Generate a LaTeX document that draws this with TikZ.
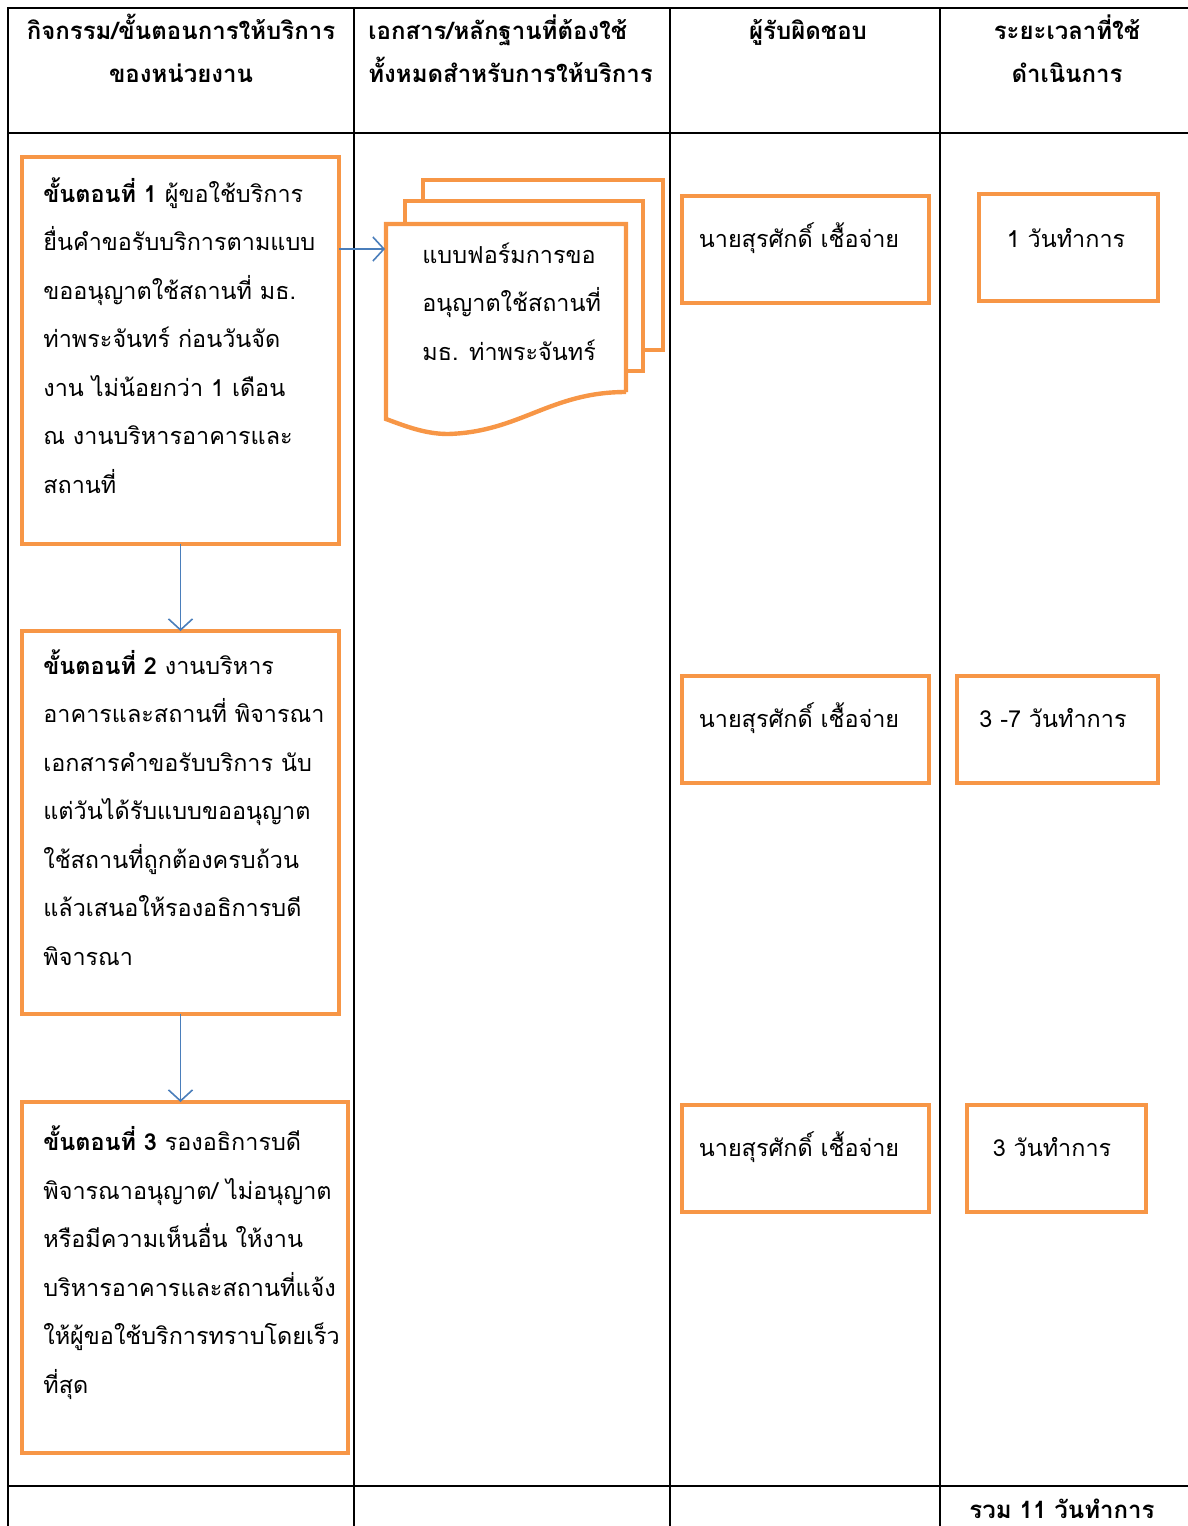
\documentclass[tikz,border=0pt]{standalone}
\usepackage{fontspec}
\setmainfont{Loma}[Script=Thai]
\usepackage{tikz}
\usetikzlibrary{arrows.meta,positioning}
\definecolor{boxorange}{HTML}{F79646}
\definecolor{flowblue}{HTML}{4A7EBB}
\tikzstyle{grid}=[draw,line width=1pt]
\tikzstyle{stepbox}=[draw=boxorange,line width=2.3pt,anchor=north west,inner sep=0pt,outer sep=0pt]
% base anchor of a node of several lines sits on its last line
\tikzstyle{body}=[anchor=base west,inner sep=0pt,align=left,font=\fontsize{11.7}{24.25}\selectfont]
\tikzstyle{cell}=[anchor=base,inner sep=0pt,font=\fontsize{11.7}{24.25}\selectfont]
\tikzstyle{head}=[inner sep=0pt,font=\fontsize{12}{21.5}\selectfont\bfseries]
\tikzstyle{flow}=[draw=flowblue,line width=0.8pt,-{Straight Barb[length=5.5pt,width=12pt]}]

\begin{document}
\begin{tikzpicture}[x=0.5pt,y=-0.5pt]
\useasboundingbox (0,0) rectangle (1188,1526);
% table
\draw[grid] (1188,8)--(8,8)--(8,1526);
\draw[grid] (8,133)--(1188,133);
\draw[grid] (8,1486)--(1188,1486);
\draw[grid] (354,8)--(354,1526);
\draw[grid] (670,8)--(670,1526);
\draw[grid] (940,8)--(940,1526);
\node[head,anchor=base,align=center](hone) at (181,82){กิจกรรม/ขั้นตอนการให้บริการ\\ของหน่วยงาน};
\node[head,anchor=base west,align=left](htwo) at (368,82){เอกสาร/หลักฐานที่ต้องใช้\\ทั้งหมดสำหรับการให้บริการ};
\node[head,anchor=base](hthree) at (808,39){ผู้รับผิดชอบ};
\node[head,anchor=base,align=center](hfour) at (1067,82){ระยะเวลาที่ใช้\\ดำเนินการ};
% steps
\node[stepbox,minimum width=158.5pt,minimum height=193.5pt](one) at (22,157){};
\node[body](tone) at (43,493){\textbf{ขั้นตอนที่ 1} ผู้ขอใช้บริการ\\ยื่นคำขอรับบริการตามแบบ\\ขออนุญาตใช้สถานที่ มธ.\\ท่าพระจันทร์ ก่อนวันจัด\\งาน ไม่น้อยกว่า 1 เดือน\\ณ งานบริหารอาคารและ\\สถานที่};
\node[stepbox,minimum width=158.5pt,minimum height=191.5pt](two) at (22,631){};
\node[body](ttwo) at (43,965){\textbf{ขั้นตอนที่ 2} งานบริหาร\\อาคารและสถานที่ พิจารณา\\เอกสารคำขอรับบริการ นับ\\แต่วันได้รับแบบขออนุญาต\\ใช้สถานที่ถูกต้องครบถ้วน\\แล้วเสนอให้รองอธิการบดี\\พิจารณา};
\node[stepbox,minimum width=163pt,minimum height=175.5pt](three) at (22,1102){};
\node[body](tthree) at (43,1393){\textbf{ขั้นตอนที่ 3} รองอธิการบดี\\พิจารณาอนุญาต/ ไม่อนุญาต\\หรือมีความเห็นอื่น ให้งาน\\บริหารอาคารและสถานที่แจ้ง\\ให้ผู้ขอใช้บริการทราบโดยเร็ว\\ที่สุด};
\draw[flow] (one.south)--(two.north);
\draw[flow] (two.south)--(two.south |- three.north);
% documents
\draw[boxorange,line width=2.2pt] (423,199)--(423,180)--(663,180)--(663,350)--(644,350);
\draw[boxorange,line width=2.2pt] (405,222)--(405,201)--(643,201)--(643,371)--(626,371);
\draw[boxorange,line width=2.2pt] (626,392)--(626,224)--(386,224)--(386,419)
  .. controls (405,426) and (425,434) .. (448,434)
  .. controls (520,432) and (550,392) .. (626,392);
\coordinate (docin) at (385,249);
\node[body](doc) at (422,360){แบบฟอร์มการขอ\\อนุญาตใช้สถานที่\\มธ. ท่าพระจันทร์};
\draw[flow] (one.east |- docin)--(docin);
% responsible
\node[stepbox,minimum width=123.5pt,minimum height=53.5pt](rone) at (682,196){};
\node[cell](trone) at (799,247){นายสุรศักดิ์ เชื้อจ่าย};
\node[stepbox,minimum width=123.5pt,minimum height=53.5pt](rtwo) at (682,676){};
\node[cell](trtwo) at (799,727){นายสุรศักดิ์ เชื้อจ่าย};
\node[stepbox,minimum width=123.5pt,minimum height=53.5pt](rthree) at (682,1105){};
\node[cell](trthree) at (799,1156){นายสุรศักดิ์ เชื้อจ่าย};
% time
\node[stepbox,minimum width=89.5pt,minimum height=53.5pt](done) at (979,194){};
\node[cell](tdone) at (1066,247){1 วันทำการ};
\node[stepbox,minimum width=100.5pt,minimum height=53.5pt](dtwo) at (957,676){};
\node[cell](tdtwo) at (1053,727){3 -7 วันทำการ};
\node[stepbox,minimum width=89.5pt,minimum height=53.5pt](dthree) at (967,1105){};
\node[cell](tdthree) at (1052,1156){3 วันทำการ};
\node[head,anchor=base](total) at (1062,1518){รวม 11 วันทำการ};
\end{tikzpicture}
\end{document}
